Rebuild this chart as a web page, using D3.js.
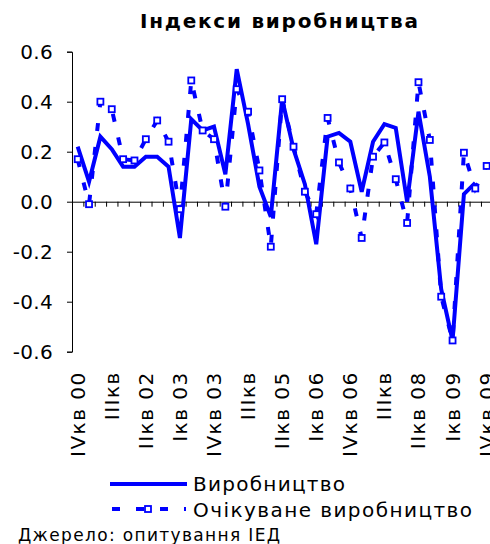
<!DOCTYPE html>
<html>
<head>
<meta charset="utf-8">
<script src="https://cdn.jsdelivr.net/npm/d3@7"></script>
<style>
  body { margin: 0; background: #fff; }
  svg { display: block; font-family: "DejaVu Sans", Verdana, sans-serif; }
</style>
</head>
<body>
<svg id="chart" width="490" height="544"></svg>
<script>
const categories = ["IVкв 00","Iкв 01","IIкв 01","IIIкв","IVкв 01","Iкв 02","IIкв 02","IIIкв 02","IVкв 02",
  "Iкв 03","IIкв 03","IIIкв 03","IVкв 03","Iкв 04","IIкв 04","IIIкв","IVкв 04","Iкв 05","IIкв 05",
  "IIIкв 05","IVкв 05","Iкв 06","IIкв 06","IIIкв 06","IVкв 06","Iкв 07","IIкв 07","IIIкв","IVкв 07",
  "Iкв 08","IIкв 08","IIIкв 08","IVкв 08","Iкв 09","IIкв 09","IIIкв 09","IVкв 09"];
const production = [0.22,0.08,0.26,0.21,0.14,0.14,0.18,0.18,0.14,-0.145,0.33,0.285,0.30,0.11,0.53,0.31,0.06,-0.06,
  0.41,0.21,0.07,-0.17,0.26,0.275,0.24,0.04,0.24,0.31,0.295,0.0,0.36,0.10,-0.35,-0.555,0.03,0.075];
const expected = [0.17,-0.01,0.40,0.37,0.17,0.165,0.25,0.325,0.24,-0.03,0.485,0.285,0.25,-0.02,0.45,0.36,0.125,-0.18,
  0.41,0.22,0.04,-0.05,0.335,0.157,0.053,-0.145,0.18,0.237,0.09,-0.085,0.478,0.247,-0.38,-0.555,0.196,0.053,0.143];
const yTicks = [-0.6,-0.4,-0.2,0.0,0.2,0.4,0.6];
const labelStep = 3;
const seriesNames = ["Виробництво","Очікуване виробництво"];
const titleText = "Індекси виробництва";
const sourceText = "Джерело: опитування IЕД";

const svg = d3.select("#chart");
const color = "#0000ff";
const mLeft = 72, mTop = 51.7, mBottom = 351.7, step = 11.36;
const mRight = mLeft + categories.length * step;

const x = d3.scaleBand().domain(d3.range(categories.length)).range([mLeft, mRight]).padding(0);
const xb = d3.scaleLinear().domain([0, categories.length]).range([mLeft, mRight]);
const y = d3.scaleLinear().domain([-0.6, 0.6]).range([mBottom, mTop]);
const cx = i => x(i) + x.bandwidth() / 2;

// title
svg.append("text").attr("x", 279).attr("y", 28).attr("text-anchor", "middle")
  .attr("font-size", 20).attr("font-weight", "bold").attr("textLength", 278).attr("lengthAdjust", "spacing")
  .text(titleText);

// y axis
const ya = svg.append("g").attr("transform", `translate(${mLeft},0)`)
  .call(d3.axisLeft(y).tickValues(yTicks).tickFormat(d => d.toFixed(1)).tickSize(5).tickPadding(14));
ya.selectAll("text").attr("font-size", 20).attr("fill", "#000").attr("font-family", "DejaVu Sans")
  .attr("letter-spacing", 0.3);
ya.selectAll("line, path").attr("stroke", "#000");

// x axis at zero
const xa = svg.append("g").attr("transform", `translate(0,${y(0)})`)
  .call(d3.axisBottom(xb).tickValues(d3.range(1, categories.length + 1)).tickFormat("").tickSize(5).tickSizeOuter(0));
xa.selectAll("line, path").attr("stroke", "#000");

// x labels at bottom
const lbl = svg.append("g").attr("transform", `translate(0,${mBottom})`)
  .call(d3.axisBottom(x).tickValues(d3.range(0, categories.length, labelStep)).tickFormat(i => categories[i]).tickSize(0));
lbl.select(".domain").remove();
lbl.selectAll("text").attr("font-size", 20).attr("fill", "#000").attr("font-family", "DejaVu Sans")
  .attr("letter-spacing", 1.5)
  .attr("text-anchor", "end").attr("transform", "translate(0,19.5) rotate(-90)")
  .attr("x", 0).attr("y", 0).attr("dy", "0.35em");

// lines
const line = d3.line().x((d, i) => cx(i)).y(d => y(d));
svg.append("path").datum(production).attr("d", line).attr("fill", "none")
  .attr("stroke", color).attr("stroke-width", 4).attr("stroke-linejoin", "miter");
svg.append("path").datum(expected).attr("d", line).attr("fill", "none")
  .attr("stroke", color).attr("stroke-width", 4).attr("stroke-dasharray", "8,16");
svg.append("g").selectAll("rect").data(expected).join("rect")
  .attr("x", (d, i) => cx(i) - 3).attr("y", d => y(d) - 3).attr("width", 6).attr("height", 6)
  .attr("fill", "#fff").attr("stroke", color).attr("stroke-width", 1.8);

// legend
const lg = svg.append("g");
lg.append("line").attr("x1", 110).attr("x2", 187).attr("y1", 484).attr("y2", 484)
  .attr("stroke", color).attr("stroke-width", 4);
lg.append("text").attr("x", 193).attr("y", 491).attr("font-size", 20).attr("textLength", 152)
  .attr("lengthAdjust", "spacing").text(seriesNames[0]);
lg.append("line").attr("x1", 112).attr("x2", 186).attr("y1", 509).attr("y2", 509)
  .attr("stroke", color).attr("stroke-width", 4).attr("stroke-dasharray", "8,16");
lg.append("rect").attr("x", 145).attr("y", 506).attr("width", 6).attr("height", 6)
  .attr("fill", "#fff").attr("stroke", color).attr("stroke-width", 1.8);
lg.append("text").attr("x", 193).attr("y", 517).attr("font-size", 20).attr("textLength", 279)
  .attr("lengthAdjust", "spacing").text(seriesNames[1]);

// source
svg.append("text").attr("x", 18).attr("y", 541).attr("font-size", 17).attr("textLength", 262)
  .attr("lengthAdjust", "spacing").text(sourceText);
</script>
</body>
</html>
